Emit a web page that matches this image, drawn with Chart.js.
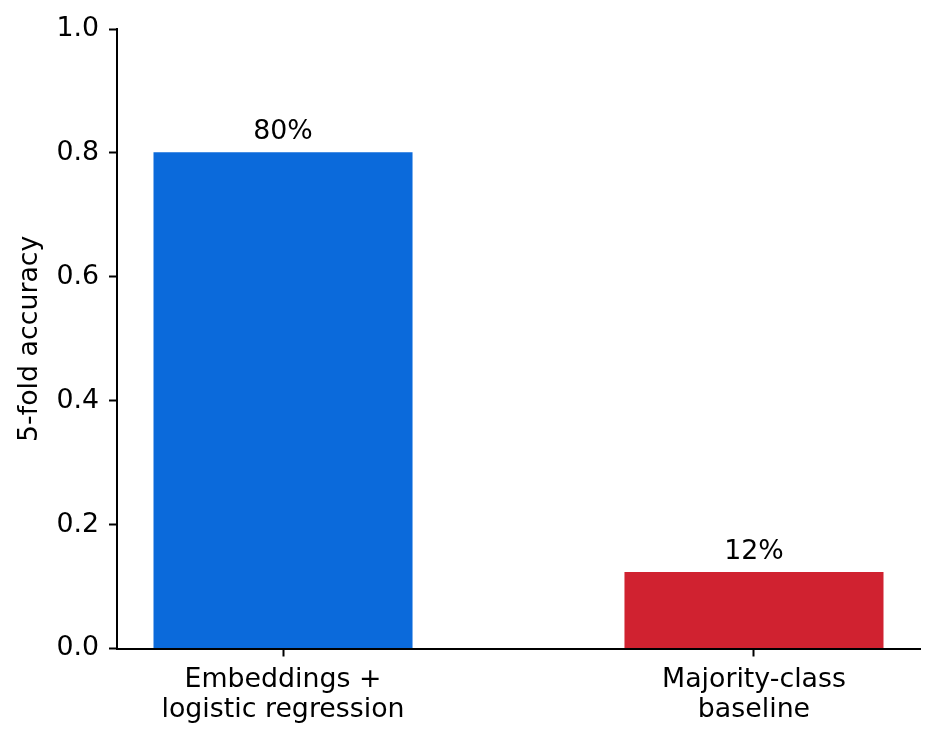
<!DOCTYPE html>
<html>
<head>
<meta charset="utf-8">
<script src="https://cdn.jsdelivr.net/npm/chart.js@4"></script>
<style>
  html, body { margin: 0; padding: 0; background: #fff; }
  #wrap { width: 938px; height: 743px; }
</style>
</head>
<body>
<div id="wrap"><canvas id="c" width="938" height="743"></canvas></div>
<script>
const categories = [["Embeddings +", "logistic regression"], ["Majority-class", "baseline"]];
const accuracy = [0.801, 0.1235];
const barColors = ["#0b6adb", "#d02230"];
const yTicks = [0, 0.2, 0.4, 0.6, 0.8, 1.0];
const yTitle = "5-fold accuracy";

const FONT = "'DejaVu Sans', sans-serif";
const FS = 26.8;

const barLabels = {
  id: 'barLabels',
  afterDatasetsDraw(chart) {
    const ctx = chart.ctx;
    const meta = chart.getDatasetMeta(0);
    ctx.save();
    ctx.font = FS + "px " + FONT;
    ctx.fillStyle = "#000";
    ctx.textAlign = "center";
    ctx.textBaseline = "alphabetic";
    meta.data.forEach((el, i) => {
      const txt = Math.round(accuracy[i] * 100) + "%";
      ctx.fillText(txt, el.x, el.y - 13);
    });
    ctx.restore();
  }
};

new Chart(document.getElementById('c'), {
  type: 'bar',
  data: {
    datasets: [{
      data: accuracy.map((v, i) => ({ x: i, y: v })),
      backgroundColor: barColors,
      borderWidth: 0,
      barPercentage: 0.55,
      categoryPercentage: 1.0
    }]
  },
  options: {
    responsive: false,
    animation: false,
    devicePixelRatio: 1,
    layout: { padding: { top: 29, right: 18, left: 0, bottom: 0 } },
    plugins: { legend: { display: false }, tooltip: { enabled: false } },
    scales: {
      x: {
        type: 'linear',
        offset: false,
        min: -0.3525,
        max: 1.3525,
        afterBuildTicks: (axis) => { axis.ticks = categories.map((c, i) => ({ value: i })); },
        afterFit: (scale) => { scale.height = 94.5; },
        ticks: {
          autoSkip: false,
          maxRotation: 0,
          padding: 9,
          color: '#000',
          font: { family: FONT, size: FS, lineHeight: 1.12 },
          callback: (v) => categories[v]
        },
        grid: { offset: false, drawOnChartArea: false, drawTicks: true, tickLength: 8, tickWidth: 2, tickColor: '#000' },
        border: { display: true, color: '#000', width: 2 }
      },
      y: {
        min: 0,
        max: 1,
        afterBuildTicks: (axis) => { axis.ticks = yTicks.map(v => ({ value: v })); },
        afterFit: (scale) => { scale.width = 117; },
        ticks: {
          padding: 10,
          color: '#000',
          font: { family: FONT, size: FS },
          callback: (v) => Number(v).toFixed(1)
        },
        grid: { drawOnChartArea: false, drawTicks: true, tickLength: 8, tickWidth: 2, tickColor: '#000' },
        border: { display: true, color: '#000', width: 2 },
        title: {
          display: true,
          text: yTitle,
          color: '#000',
          font: { family: FONT, size: FS, lineHeight: 1.2 },
          padding: { top: 14, bottom: 0 }
        }
      }
    }
  },
  plugins: [barLabels]
});
</script>
</body>
</html>
